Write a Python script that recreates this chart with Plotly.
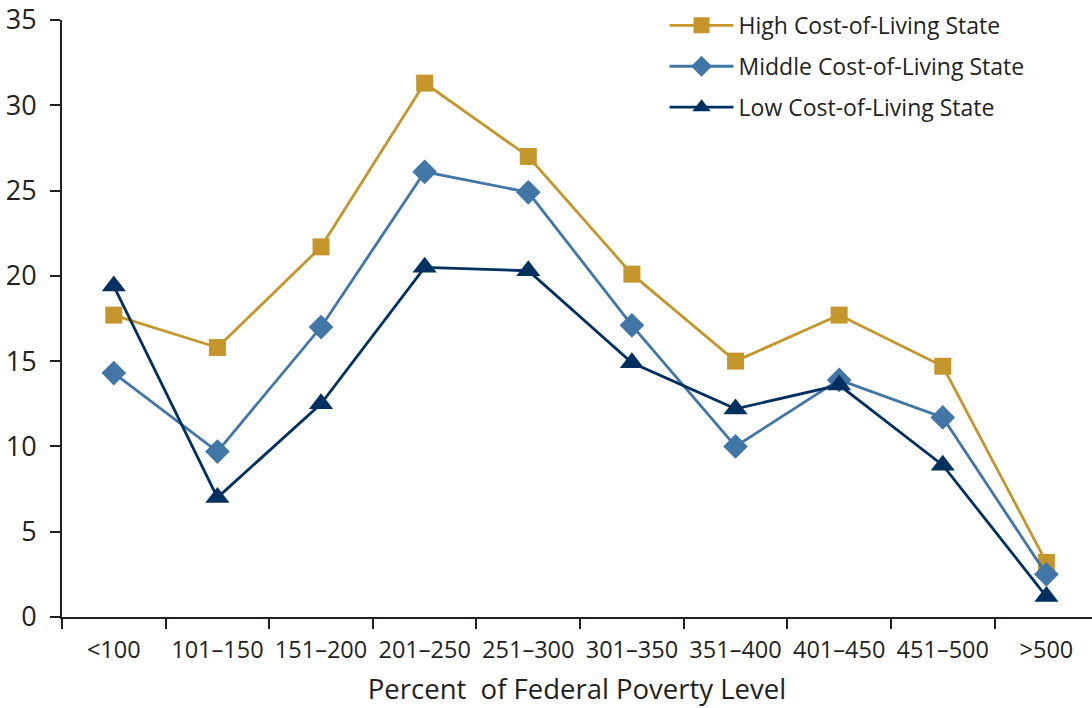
import plotly.graph_objects as go

# Federal Poverty Level bands
categories = ["<100", "101–150", "151–200", "201–250", "251–300",
              "301–350", "351–400", "401–450", "451–500", ">500"]

# Percent by state cost-of-living group
high_col = [17.7, 15.8, 21.7, 31.3, 27.0, 20.1, 15.0, 17.7, 14.7, 3.2]
middle_col = [14.3, 9.7, 17.0, 26.1, 24.9, 17.1, 10.0, 13.9, 11.7, 2.5]
low_col = [19.4, 7.0, 12.5, 20.5, 20.3, 14.9, 12.2, 13.6, 8.9, 1.2]

series = [
    ("High Cost-of-Living State", high_col, "#C4962C", "square", 17),
    ("Middle Cost-of-Living State", middle_col, "#4176A6", "diamond", 19),
    ("Low Cost-of-Living State", low_col, "#00305F", "triangle-up", 21),
]

fig = go.Figure()
for i, (name, vals, color, symbol, size) in enumerate(series):
    fig.add_trace(go.Scatter(
        x=categories, y=vals, name=name, mode="lines+markers",
        legendgroup=f"g{i}",
        line=dict(color=color, width=2.8),
        marker=dict(symbol=symbol, size=size, color=color, line=dict(width=0)),
    ))

font_family = "Open Sans, Noto Sans, sans-serif"
axis_color = "#231F20"

fig.update_layout(
    width=1092, height=708,
    margin=dict(l=62, r=0, t=20, b=91),
    plot_bgcolor="white", paper_bgcolor="white",
    font=dict(family=font_family, color="#231F20"),
    showlegend=True,
    legend=dict(
        x=0.585, y=1.027, xanchor="left", yanchor="top",
        font=dict(size=23, color="#231F20"),
        tracegroupgap=8, itemwidth=64,
        bgcolor="rgba(0,0,0,0)",
    ),
    xaxis=dict(
        type="category", range=[-0.5, 9.44],
        showline=True, linecolor=axis_color, linewidth=2,
        ticks="outside", ticklen=10, tickwidth=2, tickcolor=axis_color,
        tickson="boundaries", showgrid=False, zeroline=False,
        tickangle=0,
        tickfont=dict(size=23.5, color="#231F20"), ticklabelstandoff=11,
        title=dict(text="Percent  of Federal Poverty Level",
                   font=dict(size=27.5, color="#231F20"), standoff=16),
    ),
    yaxis=dict(
        range=[0, 35], dtick=5,
        showline=True, linecolor=axis_color, linewidth=2,
        ticks="outside", ticklen=10, tickwidth=2, tickcolor=axis_color,
        showgrid=False, zeroline=False,
        tickfont=dict(size=27, color="#231F20"), ticklabelstandoff=8,
    ),
)

fig.write_html("out.html")
